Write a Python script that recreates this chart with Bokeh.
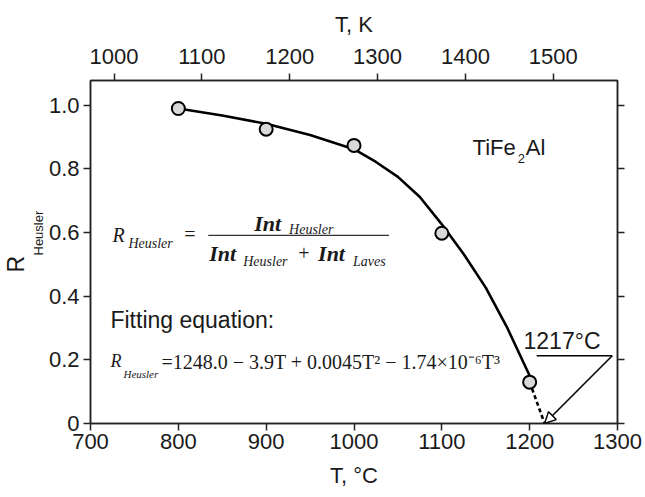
import math
from bokeh.plotting import figure
from bokeh.models import (Range1d, LinearAxis, FixedTicker, Label, Arrow, NormalHead,
                          CustomJSTickFormatter, Title)
from bokeh.embed import file_html
from bokeh.resources import INLINE

# ---- data ----
meas_T = [800, 900, 1000, 1100, 1200]
meas_R = [0.99, 0.925, 0.874, 0.598, 0.13]

curve_T = [800, 850, 900, 950, 1000, 1025, 1050, 1075, 1100, 1125, 1150, 1175, 1200]
curve_R = [0.99, 0.968, 0.942, 0.907, 0.862, 0.822, 0.775, 0.712, 0.626, 0.532, 0.427, 0.298, 0.15]

extrap_T = [1200, 1217]
extrap_R = [0.13, 0.0]

x_ticks_C = [700, 800, 900, 1000, 1100, 1200, 1300]
x_ticks_K = [1000, 1100, 1200, 1300, 1400, 1500]
y_ticks = [0, 0.2, 0.4, 0.6, 0.8, 1.0]

SANS = "Liberation Sans"
SERIF = "Liberation Serif"
AX = "#222222"
TXT = "#1a1a1a"

p = figure(width=645, height=497, output_backend="svg", toolbar_location=None,
           x_range=Range1d(700, 1300), y_range=Range1d(0, 1.078),
           min_border_left=89, min_border_right=28, min_border_top=80, min_border_bottom=74,
           x_axis_location=None, y_axis_location=None)
p.grid.visible = False
p.outline_line_color = AX
p.outline_line_width = 1.5
p.background_fill_color = "white"
p.border_fill_color = "white"

p.extra_x_ranges = {"K": Range1d(700 + 273.15, 1300 + 273.15)}

def style(ax, ticks, font_size="22px"):
    ax.ticker = FixedTicker(ticks=ticks)
    ax.minor_tick_line_color = None
    ax.major_tick_in = 0
    ax.major_tick_out = 7
    ax.axis_line_color = AX
    ax.axis_line_width = 1.5
    ax.major_tick_line_color = AX
    ax.major_tick_line_width = 1.5
    ax.major_label_text_font = SANS
    ax.major_label_text_font_size = font_size
    ax.major_label_text_color = TXT
    ax.axis_label_text_font = SANS
    ax.axis_label_text_font_size = "22px"
    ax.axis_label_text_font_style = "normal"
    ax.axis_label_text_color = TXT

bottom = LinearAxis(axis_label="T, \u00b0C")
style(bottom, x_ticks_C)
bottom.major_label_standoff = 3
bottom.axis_label_standoff = 11
p.add_layout(bottom, "below")

top = LinearAxis(x_range_name="K", axis_label="T, K")
style(top, x_ticks_K)
top.major_label_standoff = 10
top.axis_label_standoff = 9
p.add_layout(top, "above")

left = LinearAxis()
style(left, y_ticks)
left.major_label_standoff = 4
left.formatter = CustomJSTickFormatter(code="return tick == 0 ? '0' : tick.toFixed(1);")
p.add_layout(left, "left")

right = LinearAxis()
style(right, y_ticks)
right.major_label_standoff = 0
right.formatter = CustomJSTickFormatter(code="return '';")
p.add_layout(right, "right")

# ---- y axis title R_Heusler (subscript as a second, smaller title) ----
p.add_layout(Title(text="Heusler", align="left", offset=168, standoff=0,
                   text_font=SANS, text_font_size="13px", text_font_style="normal",
                   text_color=TXT), "left")
p.add_layout(Title(text="R", align="left", offset=151, standoff=0,
                   text_font=SANS, text_font_size="23px", text_font_style="normal",
                   text_color=TXT), "left")

# ---- curve, extrapolation, points ----
p.line(curve_T, curve_R, line_color="black", line_width=2.6)
p.line(extrap_T, extrap_R, line_color="black", line_width=2.6, line_dash="4 3")
p.scatter(meas_T, meas_R, size=13, fill_color="#d9d9d9", line_color="black", line_width=2)

# ---- annotation arrow 1217 C ----
p.line([1208, 1294], [0.213, 0.213], line_color="black", line_width=1.6)
p.add_layout(Arrow(x_start=1294, y_start=0.213, x_end=1217, y_end=0.0,
                   line_color="black", line_width=1.6,
                   end=NormalHead(size=11, fill_color="white", line_color="black", line_width=1.4)))
p.add_layout(Label(x=1193, y=0.258, text="1217\u00b0C", text_font=SANS, text_font_size="23px",
                   text_align="left", text_baseline="middle", text_color=TXT))

# ---- TiFe2Al ----
p.add_layout(Label(x=1135, y=0.868, text="TiFe", text_font=SANS, text_font_size="22px",
                   text_align="left", text_baseline="middle", text_color=TXT))
p.add_layout(Label(x=1186.4, y=0.833, text="2", text_font=SANS, text_font_size="13px",
                   text_align="left", text_baseline="middle", text_color=TXT))
p.add_layout(Label(x=1195.5, y=0.868, text="Al", text_font=SANS, text_font_size="22px",
                   text_align="left", text_baseline="middle", text_color=TXT))

# ---- definition formula ----
def lab(x, y, t, size, style="italic", font=SERIF):
    p.add_layout(Label(x=x, y=y, text=t, text_font=font, text_font_size=size,
                       text_font_style=style, text_align="left", text_baseline="middle",
                       text_color=TXT))

lab(725.0, 0.594, "R", "20px")
lab(743.2, 0.566, "Heusler", "14px")
lab(806.8, 0.597, "=", "20px", "normal")
lab(886.4, 0.629, "Int", "22px", "bold italic")
lab(926.1, 0.610, "Heusler", "14px")
p.line([834.1, 1039.8], [0.591, 0.591], line_color="#333333", line_width=1.3)
lab(835.2, 0.535, "Int", "22px", "bold italic")
lab(873.9, 0.509, "Heusler", "14px")
lab(936.4, 0.535, "+", "20px", "normal")
lab(959.1, 0.535, "Int", "22px", "bold italic")
lab(998.9, 0.509, "Laves", "14px")

# ---- fitting equation ----
lab(722.7, 0.324, "Fitting equation:", "23px", "normal", SANS)
lab(722.7, 0.198, "R", "18px")
lab(737.5, 0.157, "Heusler", "11px")
lab(780.7, 0.192, "=1248.0 \u2212 3.9T + 0.0045T\u00b2 \u2212 1.74\u00d710\u207b\u2076T\u00b3", "20px", "normal")

open("out.html", "w").write(file_html(p, INLINE))
